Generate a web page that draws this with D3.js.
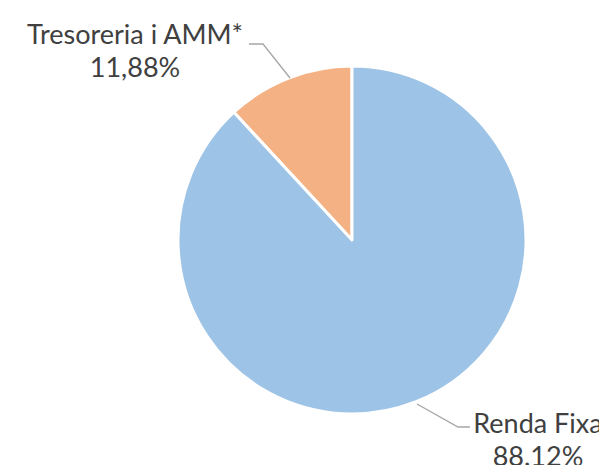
<!DOCTYPE html>
<html>
<head>
<meta charset="utf-8">
<script src="https://cdn.jsdelivr.net/npm/d3@7"></script>
<style>
  body { margin: 0; background: #fff; overflow: hidden; }
  text { font-family: Lato, "Open Sans", sans-serif; fill: #404040; }
</style>
</head>
<body>
<div id="vis"></div>
<script>
var categories = ['Tresoreria i AMM*', 'Renda Fixa'];
var values = [11.88, 88.12];
var valueLabels = ['11,88%', '88.12%'];
var colors = ['#F4B183', '#9DC3E6'];

var width = 599;
var height = 465;
var cx = 352;
var cy = 240;
var radius = 174;

var svg = d3
  .select('#vis')
  .append('svg')
  .attr('width', width)
  .attr('height', height);

// first slice ends at 12 o'clock, going counter-clockwise from there
var total = d3.sum(values);
var start = -2 * Math.PI * values[0] / total;
var pie = d3
  .pie()
  .sort(null)
  .value(d => d.value)
  .startAngle(start)
  .endAngle(start + 2 * Math.PI);
var arc = d3.arc().innerRadius(0).outerRadius(radius);

var data = categories.map((c, i) => ({name: c, value: values[i], label: valueLabels[i], color: colors[i]}));
var arcs = pie(data);

var g = svg.append('g').attr('transform', `translate(${cx}, ${cy})`);

g.selectAll('path')
  .data(arcs)
  .enter()
  .append('path')
  .attr('d', arc)
  .style('fill', d => d.data.color)
  .style('stroke', '#fff')
  .style('stroke-width', 3)
  .style('stroke-linejoin', 'round');

// label placement, by hand like the original
var labelPos = [
  {tx: 135, ty: 44, line: [[290, 78], [263, 44], [249, 44]]},
  {tx: 538, ty: 433, line: [[417, 404], [458, 427], [470, 427]]},
];

arcs.forEach((a, i) => {
  var p = labelPos[i];
  svg
    .append('polyline')
    .attr('points', p.line.map(q => q.join(',')).join(' '))
    .style('fill', 'none')
    .style('stroke', '#a6a6a6')
    .style('stroke-width', 1.3);
  var t = svg
    .append('text')
    .attr('text-anchor', 'middle')
    .style('font-size', '27px');
  t.append('tspan').attr('x', p.tx).attr('y', p.ty).text(a.data.name);
  t.append('tspan').attr('x', p.tx).attr('y', p.ty + 33).text(a.data.label);
});
</script>
</body>
</html>
